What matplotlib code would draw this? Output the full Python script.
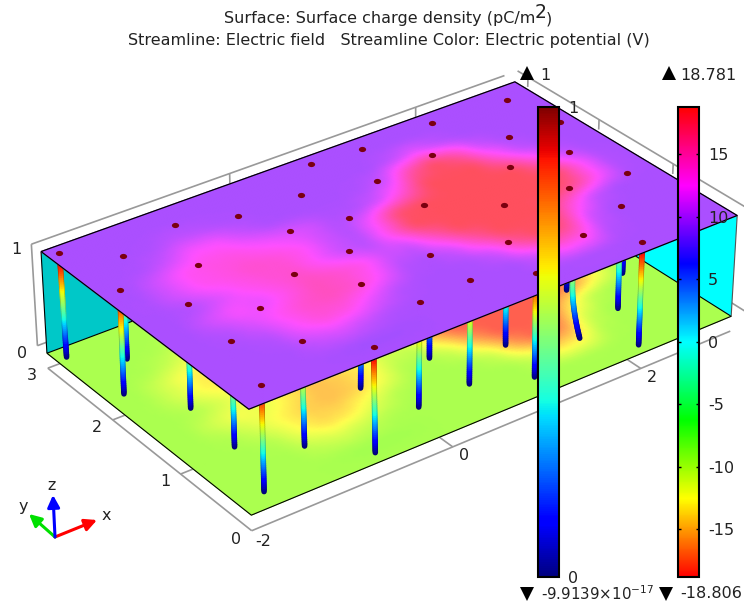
import numpy as np
import matplotlib
matplotlib.use("Agg")
import matplotlib.pyplot as plt
import matplotlib.path as mpath
from matplotlib.collections import LineCollection
from matplotlib.colors import LinearSegmentedColormap, Normalize, to_rgb
from matplotlib.colorbar import Colorbar
from matplotlib.transforms import Affine2D

W, H = 744, 605

# surface charge density on the top plate (pC/m2), rows y=3 ... y=0, columns x=-2 ... x=3
grid_x = np.arange(-2, 3.01, 0.25)
grid_y = np.arange(3, -0.01, -0.25)
top_field = np.array([
    [9.5]*21,
    [9.5]*21,
    [9.5,9.5,9.5,9.6,10.3,10.0,9.6,9.5,9.5,9.5,9.5,9.5,9.5,10.3,11.8,10.3,9.5,9.5,9.5,9.5,9.5],
    [9.5,9.5,9.6,10.6,12.4,12.3,10.6,9.6,9.5,9.5,9.5,9.7,10.8,15.5,18,15.5,11,9.6,9.5,9.5,9.5],
    [9.5,9.5,11,12.8,13.4,13.4,12.4,11.6,11,9.7,9.8,11,14,18.2,18.2,18.2,14,10.6,9.5,9.5,9.5],
    [9.5,9.6,11,12.8,13.4,14.2,13.8,12.8,10.8,9.8,12.6,17.5,18.2,18.2,18.2,18.2,18.2,14,10.5,9.5,9.5],
    [9.5,9.5,9.8,11.2,12.8,13.8,14.2,12.4,10.6,10,13.5,18.2,18.2,18.2,18.2,18.2,18.2,18,13,9.8,9.5],
    [9.5,9.5,11,12.4,11.6,13.2,14.8,14.2,13.2,10.8,10.6,14.5,18.2,18.2,18.2,18.2,18.2,16.5,12.8,9.8,9.5],
    [9.5,9.5,9.8,11.2,12.8,14.2,14.8,14.2,12.4,9.9,9.6,11,15,18.2,18.2,18.2,14,10.6,9.5,9.5,9.5],
    [9.5,9.5,9.5,9.9,12.2,13.8,13.4,11.6,9.9,9.5,9.5,9.6,11,15.5,18.2,16.5,11,9.5,9.5,9.5,9.5],
    [9.5,9.5,9.5,9.5,10.5,11.2,10.5,9.7,9.5,9.5,9.5,9.5,9.5,11,13.5,13,9.9,9.5,9.5,9.5,9.5],
    [9.5,9.5,9.5,9.5,9.4,9.2,9.2,9.3,9.5,9.5,9.5,9.5,9.5,9.5,9.6,9.6,9.5,9.5,9.5,9.5,9.5],
    [9.5]*21,
])
floor_field = -top_field

# contact dots on the plate
dot_x = [-1.89,-1.50,-0.87,-0.36,0.66,1.17,0.93,0.27,0.37,-0.16,0.04,-1.08,-0.54,-1.82,-0.19,-1.50,-1.07,-1.54,-1.09,-0.69,-1.72,
         2.73,1.94,2.32,1.59,1.99,2.85,2.57,2.73,2.17,1.00,1.54,2.32,1.76,1.19,2.08,0.54,0.56,1.06,0.02]
dot_y = [2.89,2.53,2.70,2.51,2.87,2.82,2.29,2.48,1.92,2.04,1.48,2.04,1.45,2.09,0.99,1.58,1.18,0.90,0.57,0.15,0.23,
         2.77,2.83,2.23,2.37,1.80,2.17,1.70,1.12,1.21,1.72,1.31,0.71,0.52,0.81,0.14,1.03,0.51,0.28,0.48]

# streamlines: foot on the floor, head under a dot
foot_x = [-1.90,-1.51,-1.83,-1.51,-1.55,-1.73,-1.09,-0.21,-0.69,0.00,0.53,0.55,1.17,1.05,2.15,1.74,2.31,2.72,2.07]
foot_y = [2.85,2.52,2.08,1.57,0.88,0.21,0.55,0.98,0.13,0.46,1.01,0.49,0.79,0.25,1.18,0.50,0.68,1.11,0.12]
head_x = [-1.89,-1.50,-1.82,-1.50,-1.54,-1.72,-1.09,-0.19,-0.69,0.02,0.54,0.56,1.19,1.06,2.17,1.76,2.32,2.73,2.08]
head_y = [2.89,2.53,2.09,1.58,0.90,0.23,0.57,0.99,0.15,0.48,1.03,0.51,0.81,0.28,1.21,0.52,0.71,1.12,0.14]
bow_y = [0,0,0,0,0,0,0,0,0,0,0,0,0.01,0,0,0.12,0,0,0]

x_tick_vals = [0, 2]
y_tick_vals = [1, 2, 3]
pot_ticks = [-15, -10, -5, 0, 5, 10, 15]
pot_min, pot_max = -18.806, 18.781

hue_colors = ["red", "yellow", "lime", "cyan", "blue", "magenta", "red"]
wave = LinearSegmentedColormap.from_list("wave", hue_colors, N=512)
# the lit surfaces look like the same colors washed with white
lit = LinearSegmentedColormap.from_list(
    "lit", [tuple(0.69*np.array(to_rgb(c)) + 0.31) for c in hue_colors], N=512)
pot_norm = Normalize(pot_min, pot_max)

# camera, fitted on the corners of the box as seen in the picture
cal_model = np.array([[-2,3,1],[-2,0,1],[3,0,1],[3,3,1],[-2,3,0],[-2,0,0],[3,0,0],[-2,0,-.15],[-2,3,-.15],[3,0,-.15],[0,0,-.15],[2,0,-.15],[-2,1,-.15],[-2,2,-.15]], float)
cal_pix = np.array([[41,252],[249,409],[737,215],[515,82],[46,353],[251,516],[732,316],[251,531],[48,368],[730,332],[453,447],[640,368],[182,473],[113,420]], float)
rows = []
for (X, Y, Z), (u, v) in zip(cal_model, cal_pix):
    rows.append([X,Y,Z,1,0,0,0,0,-u*X,-u*Y,-u*Z,-u])
    rows.append([0,0,0,0,X,Y,Z,1,-v*X,-v*Y,-v*Z,-v])
cam = np.linalg.svd(np.array(rows))[2][-1].reshape(3, 4)


def proj(x, y, z):
    x, y, z = np.broadcast_arrays(x, y, z)
    w = cam[2,0]*x + cam[2,1]*y + cam[2,2]*z + cam[2,3]
    return ((cam[0,0]*x + cam[0,1]*y + cam[0,2]*z + cam[0,3])/w,
            (cam[1,0]*x + cam[1,1]*y + cam[1,2]*z + cam[1,3])/w)


def refine(field):
    # finer mesh so the colors run through the colormap and not straight in rgb
    fx = np.linspace(-2, 3, 161)
    fy = np.linspace(0, 3, 97)
    f = field[::-1]
    ys = grid_y[::-1]
    a = np.array([np.interp(fx, grid_x, r) for r in f])
    b = np.array([np.interp(fy, ys, c) for c in a.T]).T
    k = np.ones(5)/5
    b = np.apply_along_axis(lambda r: np.convolve(np.pad(r, 2, mode="edge"), k, "valid"), 0, b)
    b = np.apply_along_axis(lambda r: np.convolve(np.pad(r, 2, mode="edge"), k, "valid"), 1, b)
    return fx, fy, b


def edge(ax, xs, ys, zs, **kw):
    px, py = proj(np.array(xs, float), np.array(ys, float), np.array(zs, float))
    ax.plot(px, py, solid_capstyle="butt", **kw)


fig = plt.figure(figsize=(W/100, H/100), dpi=100)
ax = fig.add_axes([0, 0, 1, 1])
ax.set_xlim(0, W)
ax.set_ylim(H, 0)
ax.axis("off")

# grid frame
gray = dict(color="#999999", lw=1.2, zorder=1)
gy, gx, gz = 3.15, 3.15, -0.15
edge(ax, [-2, 3.0], [gy, gy], [1, 1], **gray)
edge(ax, [-2, -2], [gy, gy], [0, 1], **gray)
edge(ax, [-2, 3], [gy, gy], [0, 0], **gray)
edge(ax, [gx, gx], [gy, 0], [1, 1], **gray)
edge(ax, [gx, gx], [gy, 0], [0, 0], **gray)
edge(ax, [-2, -2], [0, 3], [gz, gz], **gray)
edge(ax, [-2, 3], [0, 0], [gz, gz], **gray)
for t in x_tick_vals:
    edge(ax, [t, t], [0, 0.25], [gz, gz], **gray)
    edge(ax, [t, t], [gy, gy], [1, 0.9], **gray)
for t in y_tick_vals:
    edge(ax, [-2, -1.75], [t, t], [gz, gz], **gray)
    edge(ax, [gx, gx], [t, t], [1, 0.9], **gray)

# floor and top plate
fx, fy, fc = refine(floor_field)
mx, my = np.meshgrid(fx, fy)
px, py = proj(mx, my, 0)
ax.pcolormesh(px, py, fc, shading="gouraud", cmap=lit, norm=pot_norm, zorder=2, rasterized=True)
edge(ax, [-2, 3, 3, -2, -2], [3, 3, 0, 0, 3], [0, 0, 0, 0, 0], color="black", lw=0.8, zorder=3)

# back walls
px, py = proj(np.array([-2, 3, 3, -2.]), 3., np.array([0, 0, 1, 1.]))
ax.fill(px, py, color="#00c8c8", lw=0, zorder=2.5)
edge(ax, [-2, -2], [3, 3], [0, 1], color="black", lw=0.8, zorder=3)
px, py = proj(3., np.array([3, 0, 0, 3.]), np.array([0, 0, 1, 1.]))
ax.fill(px, py, color="#00ffff", lw=0, zorder=2.5)
edge(ax, [3, 3], [0, 0], [0, 1], color="#555555", lw=0.8, zorder=3)

# streamlines, tube look from a darker rim and a brighter core
z_lev = np.linspace(0, 1, 50)
for i in np.argsort(head_y)[::-1]:
    sx = foot_x[i] + (head_x[i]-foot_x[i])*z_lev
    sy = foot_y[i] + (head_y[i]-foot_y[i])*z_lev + bow_y[i]*4*z_lev*(1-z_lev)
    px, py = proj(sx, sy, z_lev)
    pts = np.c_[px, py]
    segs = np.stack([pts[:-1], pts[1:]], axis=1)
    mid = (z_lev[:-1]+z_lev[1:])/2
    cols = plt.cm.jet(mid)
    dark = cols.copy()
    dark[:, :3] *= 0.82
    zo = 4 + 0.01*(3-head_y[i])
    ax.add_collection(LineCollection(segs, colors=dark, linewidths=4.0, capstyle="round", zorder=zo))
    ax.add_collection(LineCollection(segs, colors=cols, linewidths=2.6, capstyle="round", zorder=zo+0.001))

fx, fy, tc = refine(top_field)
mx, my = np.meshgrid(fx, fy)
px, py = proj(mx, my, 1)
ax.pcolormesh(px, py, tc, shading="gouraud", cmap=lit, norm=pot_norm, zorder=6, rasterized=True)
edge(ax, [-2, 3, 3, -2, -2], [3, 3, 0, 0, 3], [1, 1, 1, 1, 1], color="black", lw=0.9, zorder=6.5)

# dots, flattened by the view
dot_marker = mpath.Path.unit_circle().transformed(Affine2D().scale(1, 0.72))
px, py = proj(np.array(dot_x), np.array(dot_y), 1)
ax.plot(px, py, ls="none", marker=dot_marker, ms=5.2, color="#7a0010", mew=0, zorder=7)

# tick labels
txt = dict(fontsize=11.5, color="#222222", ha="center", va="center", zorder=8)
ax.text(16, 250, "1", **txt)
ax.text(22, 353, "0", **txt)
ax.text(32, 376, "3", **txt)
ax.text(97, 428, "2", **txt)
ax.text(165, 482, "1", **txt)
ax.text(236, 539, "0", **txt)
ax.text(263, 541, "-2", **txt)
ax.text(464, 456, "0", **txt)
ax.text(652, 378, "2", **txt)

# titles
ttl = dict(fontsize=11.5, color="#222222", va="center", zorder=8)
ax.text(535, 19, "Surface: Surface charge density (pC/m", ha="right", **ttl)
ax.text(535, 12, "2", ha="left", fontsize=13.5, color="#222222", va="center", zorder=8)
ax.text(545.5, 19, ")", ha="left", **ttl)
ax.text(389, 40, "Streamline: Electric field   Streamline Color: Electric potential (V)", ha="center", **ttl)

# range markers
ax.plot([527, 669], [73, 73], ls="none", marker="^", ms=10, color="black", mew=0, zorder=8)
ax.plot([527, 666], [594, 594], ls="none", marker="v", ms=10, color="black", mew=0, zorder=8)
ax.text(545, 75, "1", **txt)
ax.text(708, 75, "18.781", **txt)
ax.text(541, 594, "-9.9139\u00d710$^{-17}$", fontsize=10.8, color="#222222", ha="left", va="center", zorder=8)
ax.text(680, 594, "-18.806", fontsize=11.5, color="#222222", ha="left", va="center", zorder=8)

# coordinate triad
tri = dict(arrowstyle="-|>", mutation_scale=18, lw=2.2, shrinkA=0, shrinkB=0)
ax.annotate("", xy=(97, 520), xytext=(55, 537), arrowprops=dict(color="#ff0000", **tri), zorder=8)
ax.annotate("", xy=(29, 514), xytext=(55, 537), arrowprops=dict(color="#00e000", **tri), zorder=8)
ax.annotate("", xy=(53, 495), xytext=(55, 537), arrowprops=dict(color="#0000ff", **tri), zorder=8)
ax.text(106, 515, "x", **txt)
ax.text(23, 507, "y", **txt)
ax.text(52, 486, "z", **txt)

# color bars
cax1 = fig.add_axes([538/W, 1-577/H, 21/W, 470/H])
cb1 = Colorbar(cax1, cmap=plt.cm.jet, norm=Normalize(0, 1), ticks=[0, 1])
cb1.set_ticklabels(["0", "1"])
cax1.tick_params(length=0, labelsize=11.5, labelcolor="#222222", pad=6.5)
cb1.outline.set_linewidth(1.5)

cax2 = fig.add_axes([678/W, 1-577/H, 21/W, 470/H])
cb2 = Colorbar(cax2, cmap=wave, norm=pot_norm, ticks=pot_ticks)
cb2.set_ticklabels([str(t) for t in pot_ticks])
cax2.tick_params(axis="y", which="major", direction="in", length=2.5, width=1, left=True, right=True,
                 labelsize=11.5, labelcolor="#222222", pad=6.5)
cax2.minorticks_off()
cb2.outline.set_linewidth(1.5)

fig.savefig("out.png", dpi=100)
